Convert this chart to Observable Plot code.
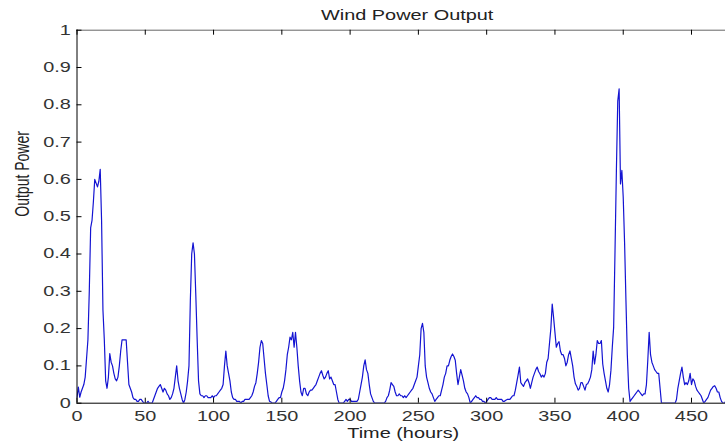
<!DOCTYPE html>
<html>
<head>
<meta charset="utf-8">
<script src="https://cdn.jsdelivr.net/npm/d3@7"></script>
<script src="https://cdn.jsdelivr.net/npm/@observablehq/plot@0.6"></script>
<style>
  html, body { margin: 0; padding: 0; background: #fff; overflow: hidden; }
  #chart svg { display: block; }
</style>
</head>
<body>
<div id="chart"></div>
<script>
const title = "Wind Power Output";
const xLabel = "Time (hours)";
const yLabel = "Output Power";
const xTicks = [0, 50, 100, 150, 200, 250, 300, 350, 400, 450];
const yTicks = [0, 0.1, 0.2, 0.3, 0.4, 0.5, 0.6, 0.7, 0.8, 0.9, 1];
const yTickLabels = ["0", "0.1", "0.2", "0.3", "0.4", "0.5", "0.6", "0.7", "0.8", "0.9", "1"];

// hourly output power, hours 0..479
const power = [
  0.016, 0.043, 0.016, 0.03, 0.04, 0.05, 0.07, 0.12, 0.17, 0.30,
  0.47, 0.49, 0.54, 0.60, 0.59, 0.58, 0.595, 0.627, 0.49, 0.25,
  0.17, 0.06, 0.04, 0.07, 0.133, 0.11, 0.10, 0.08, 0.065, 0.06,
  0.07, 0.10, 0.14, 0.17, 0.17, 0.17, 0.17, 0.11, 0.05, 0.04,
  0.03, 0.015, 0.01, 0.01, 0.005, 0.005, 0.01, 0.01, 0.005, 0.0,
  0.0, 0.0, 0.005, 0.0, 0.0, 0.0, 0.01, 0.02, 0.03, 0.04,
  0.045, 0.05, 0.04, 0.03, 0.04, 0.035, 0.025, 0.02, 0.01, 0.015,
  0.025, 0.04, 0.07, 0.10, 0.06, 0.04, 0.025, 0.01, 0.0, 0.01,
  0.03, 0.06, 0.10, 0.275, 0.40, 0.43, 0.40, 0.29, 0.17, 0.06,
  0.025, 0.02, 0.02, 0.015, 0.02, 0.02, 0.015, 0.015, 0.015, 0.02,
  0.015, 0.02, 0.02, 0.025, 0.03, 0.035, 0.04, 0.05, 0.10, 0.14,
  0.10, 0.08, 0.06, 0.03, 0.015, 0.01, 0.01, 0.005, 0.005, 0.005,
  0.0, 0.005, 0.005, 0.01, 0.01, 0.01, 0.01, 0.015, 0.02, 0.03,
  0.045, 0.055, 0.08, 0.11, 0.15, 0.168, 0.16, 0.12, 0.08, 0.05,
  0.02, 0.005, 0.003, 0.0, 0.0, 0.0, 0.005, 0.01, 0.015, 0.015,
  0.03, 0.04, 0.06, 0.09, 0.13, 0.15, 0.177, 0.17, 0.19, 0.15,
  0.19, 0.15, 0.10, 0.06, 0.03, 0.02, 0.04, 0.04, 0.025, 0.02,
  0.03, 0.035, 0.035, 0.04, 0.045, 0.05, 0.06, 0.07, 0.08, 0.087,
  0.075, 0.065, 0.07, 0.08, 0.087, 0.065, 0.07, 0.06, 0.05, 0.05,
  0.03, 0.01, 0.0, 0.0, 0.0, 0.0, 0.005, 0.01, 0.005, 0.01,
  0.01, 0.005, 0.005, 0.005, 0.005, 0.005, 0.01, 0.03, 0.05, 0.07,
  0.10, 0.116, 0.09, 0.08, 0.05, 0.025, 0.015, 0.005, 0.0, 0.0,
  0.0, 0.0, 0.0, 0.0, 0.0, 0.0, 0.005, 0.015, 0.02, 0.035,
  0.055, 0.05, 0.045, 0.03, 0.02, 0.02, 0.025, 0.02, 0.02, 0.015,
  0.02, 0.015, 0.02, 0.025, 0.03, 0.035, 0.04, 0.05, 0.06, 0.07,
  0.10, 0.13, 0.20, 0.214, 0.19, 0.10, 0.07, 0.055, 0.04, 0.03,
  0.025, 0.015, 0.005, 0.01, 0.015, 0.02, 0.02, 0.035, 0.05, 0.07,
  0.08, 0.10, 0.10, 0.115, 0.125, 0.132, 0.125, 0.115, 0.08, 0.05,
  0.07, 0.09, 0.075, 0.06, 0.04, 0.03, 0.025, 0.015, 0.0, 0.005,
  0.01, 0.015, 0.02, 0.015, 0.015, 0.01, 0.01, 0.005, 0.005, 0.0,
  0.005, 0.01, 0.015, 0.015, 0.01, 0.01, 0.01, 0.015, 0.01, 0.01,
  0.01, 0.01, 0.005, 0.005, 0.008, 0.01, 0.01, 0.01, 0.015, 0.02,
  0.02, 0.035, 0.055, 0.075, 0.097, 0.055, 0.05, 0.045, 0.055, 0.06,
  0.065, 0.055, 0.04, 0.055, 0.07, 0.08, 0.09, 0.097, 0.085, 0.079,
  0.07, 0.075, 0.07, 0.08, 0.11, 0.12, 0.16, 0.20, 0.266, 0.23,
  0.19, 0.15, 0.16, 0.165, 0.14, 0.13, 0.13, 0.12, 0.10, 0.11,
  0.13, 0.14, 0.12, 0.10, 0.07, 0.052, 0.045, 0.035, 0.04, 0.055,
  0.055, 0.045, 0.035, 0.05, 0.052, 0.06, 0.07, 0.09, 0.14, 0.105,
  0.13, 0.168, 0.16, 0.16, 0.168, 0.105, 0.08, 0.06, 0.04, 0.03,
  0.05, 0.088, 0.15, 0.204, 0.41, 0.624, 0.81, 0.843, 0.588, 0.624,
  0.552, 0.43, 0.275, 0.13, 0.04, 0.005, 0.01, 0.015, 0.02, 0.025,
  0.03, 0.035, 0.03, 0.025, 0.02, 0.025, 0.025, 0.05, 0.115, 0.19,
  0.13, 0.11, 0.10, 0.09, 0.085, 0.08, 0.08, 0.04, 0.0, 0.0,
  0.0, 0.0, 0.0, 0.0, 0.0, 0.0, 0.0, 0.0, 0.0, 0.01,
  0.04, 0.06, 0.08, 0.097, 0.07, 0.05, 0.055, 0.05, 0.06, 0.08,
  0.05, 0.065, 0.06, 0.045, 0.035, 0.03, 0.025, 0.02, 0.01, 0.0,
  0.005, 0.01, 0.015, 0.025, 0.035, 0.04, 0.045, 0.047, 0.04, 0.03,
  0.03, 0.015, 0.005, 0.0, 0.0, 0.005, 0.01, 0.015, 0.02, 0.02
];

const series = power.map((v, i) => ({hour: i, value: v}));
const yLabelOf = new Map(yTicks.map((t, i) => [t, yTickLabels[i]]));

const chart = Plot.plot({
  width: 725,
  height: 445,
  marginLeft: 76.5,
  marginRight: 0,
  marginTop: 29.7,
  marginBottom: 42.3,
  style: {fontFamily: "'Liberation Sans', Arial, sans-serif", fontSize: "14px", color: "#333", background: "#fff", overflow: "hidden"},
  x: {domain: [0, 474.9]},
  y: {domain: [0, 1]},
  marks: [
    Plot.line(series, {x: "hour", y: "value", stroke: "#1414d2", strokeWidth: 1.2, clip: true}),
    // frame
    Plot.ruleY([0], {stroke: "#000", strokeWidth: 1}),
    Plot.ruleY([1], {stroke: "#666", strokeWidth: 1}),
    Plot.ruleX([0], {stroke: "#000", strokeWidth: 1}),
    // inward ticks (about 5px long)
    Plot.ruleX(xTicks, {x: d => d, y1: 0, y2: 0.0134, stroke: "#000"}),
    Plot.ruleX(xTicks, {x: d => d, y1: 1, y2: 0.9866, stroke: "#000"}),
    Plot.ruleY(yTicks, {y: d => d, x1: 0, x2: 3.66, stroke: "#000"}),
    // axes labels
    Plot.axisX(xTicks, {tickSize: 0, tickPadding: 7.5, label: null, fontSize: 14}),
    Plot.axisY(yTicks, {tickSize: 0, tickPadding: 6, label: null, fontSize: 14, tickFormat: d => yLabelOf.get(d)}),
    Plot.text([title], {frameAnchor: "top", lineAnchor: "middle", dy: -14.7, dx: 6, fontSize: 14, fill: "#222"}),
    Plot.text([xLabel], {frameAnchor: "bottom", lineAnchor: "middle", dy: 30.3, dx: 2, fontSize: 14, fill: "#222"}),
    Plot.text([yLabel], {frameAnchor: "left", lineAnchor: "middle", rotate: -90, dx: -54.5, fontSize: 14, fill: "#222"})
  ]
});

document.getElementById("chart").appendChild(chart);

// stretch text horizontally to match the reference rendering
const SX = 1.42;
chart.querySelectorAll("text").forEach(t => {
  const b = t.getBBox();
  const anchor = getComputedStyle(t).textAnchor;
  const T = t.getAttribute("transform") || "";
  const rotated = /rotate/.test(T);
  let cx, cy;
  if (rotated) {
    cx = b.x + b.width / 2;
    cy = b.y + b.height / 2;
    t.setAttribute("transform", `${T} translate(${cx},${cy}) scale(1,${SX}) translate(${-cx},${-cy})`);
  } else {
    cx = anchor === "end" ? b.x + b.width : anchor === "middle" ? b.x + b.width / 2 : b.x;
    cy = b.y + b.height / 2;
    t.setAttribute("transform", `${T} translate(${cx},${cy}) scale(${SX},1) translate(${-cx},${-cy})`);
  }
});
</script>
</body>
</html>
